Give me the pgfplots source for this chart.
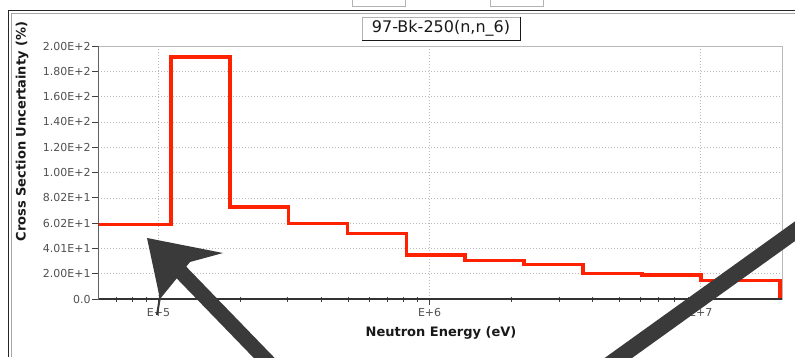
\documentclass[border=0pt]{standalone}
\usepackage{fontspec}
\setmainfont{DejaVu Sans}
\usepackage{pgfplots}
\pgfplotsset{compat=1.18}
\definecolor{stepred}{RGB}{255,34,0}
\definecolor{ticktext}{RGB}{80,80,80}
\definecolor{scribble}{RGB}{58,58,58}
\begin{document}
\begin{tikzpicture}
\useasboundingbox (0,0) rectangle (795pt,357pt);
% outer panel frame
\draw[gray!70, line width=0.8pt] (11pt,0pt) -- (11pt,344pt) -- (795pt,344pt);
\draw[black!85, line width=1.6pt] (8.5pt,0pt) -- (8.5pt,346.5pt) -- (795pt,346.5pt);
% cut-off controls at the top
\draw[gray!60, line width=0.6pt, fill=white] (352pt,351pt) rectangle (405pt,362pt);
\draw[gray!60, line width=0.6pt, fill=white] (490pt,351pt) rectangle (543pt,362pt);
\begin{axis}[
  at={(98.3pt,58pt)}, anchor=south west,
  width=684pt, height=253pt, scale only axis,
  xmode=log, log basis x=10,
  xmin=6e4, xmax=2e7, ymin=0, ymax=200,
  xtick={1e5,1e6,1e7}, xticklabels={E+5,E+6,E+7},
  minor xtick={7e4,8e4,9e4,2e5,3e5,4e5,5e5,6e5,7e5,8e5,9e5,2e6,3e6,4e6,5e6,6e6,7e6,8e6,9e6},
  ytick={0,20,...,200},
  yticklabels={0.0,2.00E+1,4.01E+1,6.02E+1,8.02E+1,1.00E+2,1.20E+2,1.40E+2,1.60E+2,1.80E+2,2.00E+2},
  xtick pos=bottom, ytick pos=left,
  tick align=outside,
  major tick length=6pt, minor tick length=5pt,
  tick style={black!75, line width=0.7pt},
  minor x tick style={yshift=2.5pt},
  xmajorgrids=true, ymajorgrids=true,
  major grid style={gray!55, dash pattern=on 1pt off 2pt, line width=0.6pt},
  axis line style={gray!55, line width=0.9pt},
  tick label style={font=\fontsize{11}{13}\selectfont, text=ticktext},
  yticklabel style={inner xsep=1.5pt},
  /pgf/number format/assume math mode=true,
  clip=true,
]
\addplot[const plot mark left, stepred, line width=3.6pt, line join=miter] coordinates {
  (6e4,59)
  (1.111e5,191.5)
  (1.832e5,72.5)
  (3.020e5,59.8)
  (4.979e5,51.9)
  (8.209e5,34.8)
  (1.353e6,30.3)
  (2.231e6,27.4)
  (3.679e6,20.3)
  (6.065e6,19.0)
  (1.0e7,14.5)
  (1.964e7,0)
};
\draw[black!80, line width=1.1pt] (rel axis cs:0,1) -- (rel axis cs:0,0) -- (rel axis cs:1,0);
\end{axis}
% title box
\node[draw=gray!60, line width=0.6pt, fill=white, minimum width=158pt, minimum height=23pt,
      inner sep=0pt, font=\fontsize{16}{18}\selectfont, text=black!90] (title) at (441pt,328.5pt) {97-Bk-250(n,n\_6)};
\draw[black!90, line width=1.3pt] (title.north east) -- (title.south east) -- (title.south west);
% axis labels
\node[rotate=90, font=\bfseries\fontsize{13}{15}\selectfont, text=black!90] at (22pt,225.5pt) {Cross Section Uncertainty (\%)};
\node[font=\bfseries\fontsize{13}{15}\selectfont, text=black!90] at (441pt,24pt) {Neutron Energy (eV)};
% hand-drawn arrows
\draw[scribble, line width=15pt, line cap=butt] (272pt,-9pt) -- (180pt,86pt);
\fill[scribble] (147pt,119pt) -- (223pt,104pt) -- (190pt,95pt) -- (160pt,58pt) -- cycle;
\draw[scribble, line width=2pt] (161pt,66pt) -- (157pt,42pt);
\draw[scribble, line width=16pt, line cap=butt] (603pt,-12pt) -- (812pt,138pt);
\end{tikzpicture}
\end{document}
